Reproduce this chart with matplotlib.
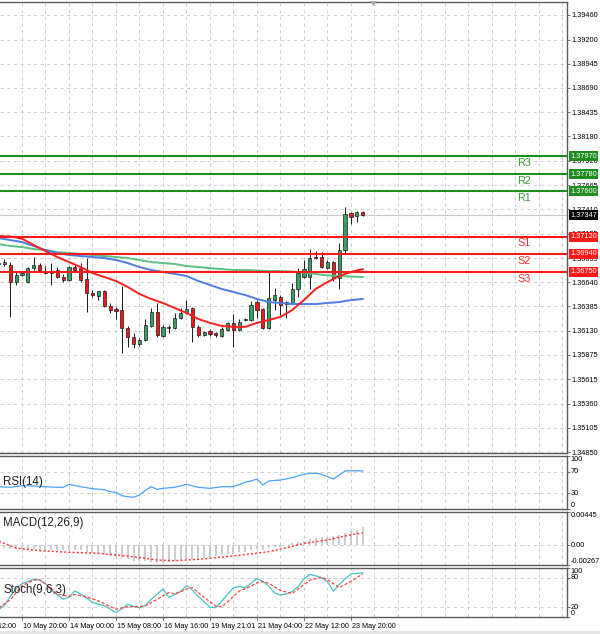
import matplotlib
matplotlib.use('Agg')
import matplotlib.pyplot as plt
import matplotlib.transforms as mtransforms
from matplotlib.patches import Rectangle, Polygon
import numpy as np

plt.rcParams['font.family'] = ['Liberation Sans', 'DejaVu Sans']

# H4 bars, index 0 = 10 May 20:00
bar_idx = list(range(-4, 59))
opens = [1.36833, 1.36833, 1.36822, 1.36643, 1.36717, 1.36643, 1.36790, 1.36822, 1.36759, 1.36749,
         1.36770, 1.36696, 1.36664, 1.36801, 1.36790, 1.36675, 1.36527, 1.36496, 1.36548, 1.36390,
         1.36359, 1.36348, 1.36159, 1.36064, 1.35990, 1.36033, 1.36180, 1.36327, 1.36075, 1.36170,
         1.36159, 1.36264, 1.36317, 1.36369, 1.36170, 1.36085, 1.36128, 1.36106, 1.36075, 1.36138,
         1.36212, 1.36138, 1.36243, 1.36243, 1.36432, 1.36359, 1.36159, 1.36453, 1.36485, 1.36432,
         1.36422, 1.36570, 1.36696, 1.36696, 1.36907, 1.36907, 1.36790, 1.36854, 1.36686, 1.36980,
         1.37371, 1.37339, 1.37381]
highs = [1.36875, 1.36886, 1.36854, 1.36749, 1.36759, 1.36801, 1.36907, 1.36843, 1.36812, 1.36843,
         1.36801, 1.36728, 1.36812, 1.36822, 1.36843, 1.36896, 1.36559, 1.36548, 1.36559, 1.36422,
         1.36380, 1.36601, 1.36180, 1.36106, 1.36054, 1.36254, 1.36369, 1.36422, 1.36191, 1.36191,
         1.36317, 1.36369, 1.36453, 1.36380, 1.36191, 1.36128, 1.36149, 1.36117, 1.36170, 1.36222,
         1.36306, 1.36254, 1.36264, 1.36443, 1.36453, 1.36369, 1.36759, 1.36580, 1.36506, 1.36443,
         1.36633, 1.36790, 1.36875, 1.36991, 1.36970, 1.36959, 1.36875, 1.36864, 1.37054, 1.37434,
         1.37381, 1.37392, 1.37392]
lows = [1.36790, 1.36812, 1.36275, 1.36612, 1.36707, 1.36633, 1.36770, 1.36749, 1.36728, 1.36612,
        1.36686, 1.36643, 1.36654, 1.36749, 1.36643, 1.36327, 1.36485, 1.36453, 1.36380, 1.36317,
        1.36254, 1.35896, 1.35959, 1.35948, 1.35969, 1.36022, 1.36170, 1.36064, 1.36064, 1.36106,
        1.36149, 1.36254, 1.36306, 1.36011, 1.36064, 1.36075, 1.36075, 1.36064, 1.36064, 1.36128,
        1.35959, 1.36128, 1.36233, 1.36233, 1.36264, 1.36149, 1.36149, 1.36348, 1.36296, 1.36264,
        1.36411, 1.36485, 1.36686, 1.36570, 1.36886, 1.36790, 1.36780, 1.36654, 1.36570, 1.36938,
        1.37255, 1.37276, 1.37339]
closes = [1.36843, 1.36854, 1.36643, 1.36717, 1.36738, 1.36790, 1.36822, 1.36759, 1.36738, 1.36743,
          1.36696, 1.36664, 1.36801, 1.36770, 1.36664, 1.36527, 1.36506, 1.36548, 1.36390, 1.36348,
          1.36338, 1.36159, 1.36064, 1.35990, 1.36033, 1.36191, 1.36327, 1.36085, 1.36170, 1.36154,
          1.36264, 1.36317, 1.36359, 1.36170, 1.36085, 1.36117, 1.36096, 1.36085, 1.36149, 1.36212,
          1.36138, 1.36222, 1.36249, 1.36401, 1.36348, 1.36159, 1.36475, 1.36506, 1.36401, 1.36411,
          1.36570, 1.36738, 1.36780, 1.36896, 1.36901, 1.36801, 1.36854, 1.36686, 1.36980, 1.37360,
          1.37329, 1.37381, 1.37347]

# moving averages, read every second bar
ma_bar = list(range(-4, 59, 2))
ma_red = [1.37128, 1.37123, 1.37101, 1.37033, 1.36970, 1.36907, 1.36854, 1.36801, 1.36738, 1.36696,
          1.36654, 1.36591, 1.36517, 1.36464, 1.36422, 1.36369, 1.36317, 1.36254, 1.36212, 1.36180,
          1.36170, 1.36170, 1.36212, 1.36243, 1.36275, 1.36348, 1.36453, 1.36570, 1.36643, 1.36707,
          1.36749, 1.36780]
ma_blue = [1.37107, 1.37086, 1.37065, 1.37023, 1.36980, 1.36949, 1.36928, 1.36917, 1.36907, 1.36896,
           1.36875, 1.36843, 1.36801, 1.36770, 1.36749, 1.36728, 1.36707, 1.36654, 1.36612, 1.36570,
           1.36538, 1.36506, 1.36464, 1.36432, 1.36422, 1.36411, 1.36411, 1.36411, 1.36422, 1.36432,
           1.36453, 1.36464]
ma_green = [1.37044, 1.37023, 1.37012, 1.36991, 1.36980, 1.36959, 1.36949, 1.36938, 1.36928, 1.36917,
            1.36907, 1.36896, 1.36875, 1.36854, 1.36843, 1.36833, 1.36812, 1.36801, 1.36790, 1.36780,
            1.36770, 1.36770, 1.36764, 1.36759, 1.36759, 1.36754, 1.36743, 1.36728, 1.36712, 1.36707,
            1.36701, 1.36696]

res_names = ['R1', 'R2', 'R3']
res_levels = [1.37600, 1.37780, 1.37970]
sup_names = ['S1', 'S2', 'S3']
sup_levels = [1.37120, 1.36940, 1.36750]
last_price = 1.37347

price_ticks = [1.39460, 1.39200, 1.38945, 1.38690, 1.38435, 1.38180, 1.37920, 1.37665, 1.37410,
               1.37155, 1.36895, 1.36640, 1.36385, 1.36130, 1.35875, 1.35615, 1.35360, 1.35105, 1.34850]

rsi_bar = [-4, -2, 0, 2, 4, 6, 7, 8, 10, 12, 14, 15, 16, 17, 18, 19, 20, 21, 22, 23, 24, 26, 28, 30, 32,
           34, 36, 38, 39, 40, 41, 42, 44, 46, 47, 48, 49, 50, 51, 52, 53, 54, 55, 56, 58]
rsi = [42.1, 40.9, 44.0, 43.4, 42.1, 40.9, 40.9, 46.2, 42.1, 38.3, 36.4, 32.6, 31.5, 25.1, 23.2,
       22.1, 26.4, 35.3, 42.1, 37.2, 39.0, 40.9, 46.6, 40.9, 39.0, 42.1, 42.1, 50.4, 52.8, 56.6,
       45.3, 52.8, 54.7, 59.1, 62.8, 65.5, 67.4, 67.4, 65.5, 60.9, 56.6, 64.2, 71.7, 72.3, 71.7]

macd_hist = [-0.00039, -0.00039, -0.00052, -0.00052, -0.00052, -0.00052, -0.00052, -0.00059, -0.00066,
             -0.00066, -0.00066, -0.00072, -0.00066, -0.00066, -0.00072, -0.00092, -0.00106, -0.00113,
             -0.00133, -0.00146, -0.00160, -0.00173, -0.00193, -0.00207, -0.00213, -0.00220, -0.00227,
             -0.00234, -0.00234, -0.00227, -0.00213, -0.00200, -0.00186, -0.00186, -0.00180, -0.00173,
             -0.00160, -0.00146, -0.00133, -0.00119, -0.00113, -0.00099, -0.00086, -0.00066, -0.00052,
             -0.00059, -0.00039, -0.00025, -0.00019, 0.00008, 0.00028, 0.00046, 0.00059, 0.00078,
             0.00091, 0.00105, 0.00113, 0.00123, 0.00140, 0.00167, 0.00186, 0.00203, 0.00239]
macd_sig_bar = [-4, -1, 3, 8, 13, 19, 23, 26, 30, 36, 42, 45, 48, 52, 55, 58]
macd_sig = [0.00055, -0.00039, -0.00075, -0.00096, -0.00110, -0.00156, -0.00200, -0.00209, -0.00191,
            -0.00146, -0.00088, -0.00035, 0.00024, 0.00069, 0.00123, 0.00167]

st_main_bar = [-4, -3, -2, -1, 0, 2, 3, 4, 5, 7, 8, 9, 10, 12, 13, 14, 16, 17, 18, 19, 20, 21, 22, 24,
               25, 26, 27, 28, 29, 30, 32, 33, 35, 36, 37, 38, 40, 41, 42, 43, 44, 45, 46, 47, 48, 49,
               50, 51, 52, 53, 54, 55, 56, 57, 58]
st_main = [14, 24, 42, 58, 68, 77, 76, 68, 55, 36, 41, 53, 47, 30, 26, 23, 9, 17, 26, 22, 19, 24, 36,
           57, 40, 46, 52, 64, 55, 42, 20, 19, 46, 60, 62, 60, 78, 73, 63, 49, 45, 47, 52, 62, 78, 87,
           84, 80, 72, 53, 66, 78, 88, 89, 90]
st_sig_bar = [-4, -2, 0, 2, 3, 5, 6, 8, 9, 11, 13, 14, 16, 18, 20, 21, 23, 25, 26, 28, 29, 31, 33, 34,
              35, 37, 39, 40, 41, 42, 44, 46, 47, 49, 51, 52, 54, 56, 58]
st_sig = [18, 35, 64, 75, 76, 58, 47, 42, 46, 41, 33, 27, 16, 21, 21, 23, 36, 50, 47, 57, 60, 40, 22,
          21, 31, 53, 63, 70, 72, 69, 54, 48, 57, 75, 81, 76, 60, 73, 88]

time_bars = [-8, 0, 8, 16, 24, 32, 40, 48, 56]
time_labels = ['9 May 12:00', '10 May 20:00', '14 May 00:00', '15 May 08:00', '16 May 16:00',
               '19 May 21:01', '21 May 04:00', '22 May 12:00', '23 May 20:00']

GRID = '#c8c8c8'
BORDER = '#5a5a5a'
W, H = 600, 634
X_LEFT, X_RIGHT = -3.745, 92.77

fig = plt.figure(figsize=(6.0, 6.34), dpi=100)


def panel(top, bottom):
    return fig.add_axes([0, 1 - bottom / H, 567 / W, (bottom - top) / H])


def style(a):
    a.set_xlim(X_LEFT, X_RIGHT)
    a.spines['left'].set_visible(False)
    for s in ('top', 'bottom', 'right'):
        a.spines[s].set_color(BORDER)
        a.spines[s].set_linewidth(1.0)
    a.yaxis.tick_right()
    a.tick_params(axis='y', length=2, width=0.6, color=BORDER, pad=1.5, labelsize=5.3)
    a.tick_params(axis='x', length=0, labelbottom=False)
    a.set_xticks([])
    for g in range(0, 93, 4):
        a.axvline(g, color=GRID, lw=0.6, ls=(0, (4, 4)), zorder=0)


ax = panel(2, 453)
ax_rsi = panel(456, 509)
ax_macd = panel(512, 565)
ax_st = panel(568, 617)
for a in (ax, ax_rsi, ax_macd, ax_st):
    style(a)

# main chart
ax.set_ylim(1.348395, 1.395971)
ax.set_yticks(price_ticks)
ax.set_yticklabels(['%.5f' % t for t in price_ticks])
for t in price_ticks:
    ax.axhline(t, color=GRID, lw=0.6, ls=(0, (4, 4)), zorder=0)

x = np.array(bar_idx)
o, h, l, c = map(np.array, (opens, highs, lows, closes))
up = c >= o
ax.vlines(x, l, h, color='#1a1a1a', lw=0.7, zorder=2)
body_lo = np.minimum(o, c)
body_h = np.maximum(np.abs(c - o), 0.00002)
ax.bar(x, body_h, bottom=body_lo, width=0.55, color=np.where(up, '#35a062', '#f01818'),
       edgecolor='#1a1a1a', linewidth=0.5, zorder=3)

ax.axhline(last_price, color='#c8c8c8', lw=0.8, zorder=1)
ax.plot(ma_bar, ma_green, color='#5cbf80', lw=1.4, zorder=4)
ax.plot(ma_bar, ma_blue, color='#4c7ce6', lw=1.4, zorder=4)
ax.plot(ma_bar, ma_red, color='#ff1e1e', lw=1.4, zorder=4)

trans = mtransforms.blended_transform_factory(ax.transAxes, ax.transData)
box_kw = dict(transform=trans, fontsize=5.3, color='white', va='center', ha='left',
              clip_on=False, zorder=10)
for name, v in zip(res_names, res_levels):
    ax.axhline(v, color='#1e8c1e', lw=1.5, zorder=5)
    ax.annotate(name, xy=(84.3, v), xytext=(0, -4.8), textcoords='offset points',
                fontsize=7.8, color='#3a9a3a', va='center', ha='left')
    ax.text(1.006, v, '%.5f' % v, bbox=dict(boxstyle='square,pad=0.18', fc='#1e8c1e', ec='none'),
            **box_kw)
for name, v in zip(sup_names, sup_levels):
    ax.axhline(v, color='#ff1a1a', lw=1.5, zorder=5)
    ax.annotate(name, xy=(84.3, v), xytext=(0, -4.8), textcoords='offset points',
                fontsize=7.8, color='#ff3030', va='center', ha='left')
    ax.text(1.006, v, '%.5f' % v, bbox=dict(boxstyle='square,pad=0.18', fc='#ff1a1a', ec='none'),
            **box_kw)
ax.text(1.006, last_price, '%.5f' % last_price,
        bbox=dict(boxstyle='square,pad=0.18', fc='black', ec='none'), **box_kw)


def side_labels(a, vals, texts, vas):
    tr = mtransforms.blended_transform_factory(a.transAxes, a.transData)
    a.set_yticks(vals)
    a.set_yticklabels([])
    for v, t, va in zip(vals, texts, vas):
        a.text(1.0065, v, t, transform=tr, fontsize=5.3, va=va, ha='left', clip_on=False)


# RSI
ax_rsi.set_ylim(0, 100)
for lv in (30, 70):
    ax_rsi.axhline(lv, color=GRID, lw=0.6, ls=(0, (4, 4)), zorder=0)
ax_rsi.plot(rsi_bar, rsi, color='#4aa3ff', lw=0.9)
side_labels(ax_rsi, [100, 70, 30, 0], ['100', '70', '30', '0'], ['top', 'center', 'center', 'bottom'])
ax_rsi.text(3 / 567, 0.51, 'RSI(14)', transform=ax_rsi.transAxes, fontsize=8.3, va='center',
            color='#202020')

# MACD
ax_macd.set_ylim(-0.002671, 0.00445)
ax_macd.axhline(0, color=GRID, lw=0.6, ls=(0, (4, 4)), zorder=0)
ax_macd.vlines(x, 0, macd_hist, color='#c4c4c4', lw=1.2, zorder=1)
ax_macd.plot(macd_sig_bar, macd_sig, color='#ff3030', lw=1.0, ls=(0, (1.5, 1.5)), zorder=2)
side_labels(ax_macd, [0.00445, 0.0, -0.002671], ['0.00445', '0.00', '-0.002671'],
            ['top', 'center', 'bottom'])
ax_macd.text(3 / 567, 0.80, 'MACD(12,26,9)', transform=ax_macd.transAxes, fontsize=8.3,
             va='center', color='#202020')

# Stochastic
ax_st.set_ylim(0, 100)
for lv in (20, 80):
    ax_st.axhline(lv, color=GRID, lw=0.6, ls=(0, (4, 4)), zorder=0)
ax_st.plot(st_main_bar, st_main, color='#48c4c4', lw=0.9)
ax_st.plot(st_sig_bar, st_sig, color='#ff4040', lw=0.9, ls=(0, (2.5, 1.5)))
side_labels(ax_st, [100, 80, 20, 0], ['100', '80', '20', '0'], ['top', 'center', 'center', 'bottom'])
ax_st.text(3 / 567, 0.55, 'Stoch(9,6,3)', transform=ax_st.transAxes, fontsize=8.3, va='center',
           color='#202020')

# time axis
tr_x = mtransforms.blended_transform_factory(ax_st.transData, ax_st.transAxes)
for b, t in zip(time_bars, time_labels):
    ax_st.plot([b, b], [0, -0.07], transform=tr_x, color=BORDER, lw=0.6, clip_on=False)
    ax_st.annotate(t, xy=(b, 0), xycoords=tr_x, xytext=(1.0, -6.6), textcoords='offset points',
                   fontsize=5.2, va='center', ha='left', annotation_clip=False)

fig.patches.append(Rectangle((0, 0), 1, 3 / H, transform=fig.transFigure,
                             fc='#e6e6e6', ec='none'))
fig.add_artist(Polygon([[370 / W, 1 - 1 / H], [377 / W, 1 - 1 / H], [373.5 / W, 1 - 6 / H]],
                       closed=True, transform=fig.transFigure, fc='#a8a8a8', ec='none', zorder=20))

fig.savefig('out.png', dpi=100)
